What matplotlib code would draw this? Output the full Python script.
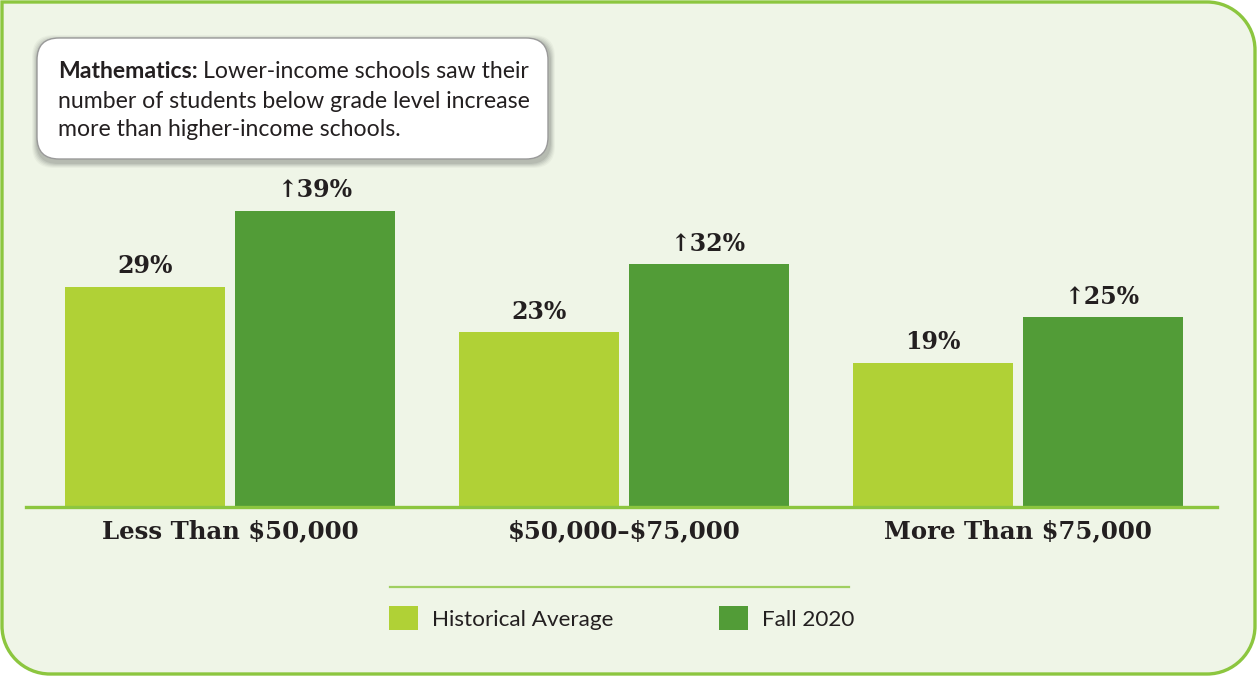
import matplotlib
matplotlib.use("Agg")
import matplotlib.pyplot as plt
import numpy as np
from matplotlib.path import Path
from matplotlib.patches import PathPatch, FancyBboxPatch

# ---- data ----
categories = ["Less Than \\$50,000", "\\$50,000\u2013\\$75,000", "More Than \\$75,000"]
series_names = ["Historical Average", "Fall 2020"]
historical = [29, 23, 19]
fall2020 = [39, 32, 25]

W, H = 1257, 676
DPI = 100
LIGHT = "#b0d136"
DARK = "#529c37"
BORDER = "#8cc63f"
BG = "#eff5e7"
TXT = "#231f20"

fig = plt.figure(figsize=(W / DPI, H / DPI), dpi=DPI)
fig.patch.set_facecolor("white")

# background overlay axes in pixel coordinates
bg = fig.add_axes([0, 0, 1, 1], zorder=0)
bg.set_xlim(0, W)
bg.set_ylim(H, 0)
bg.axis("off")

# panel with top-left square corner, others rounded
r = 48
x0, y0, x1, y1 = 2, 2, W - 2, H - 2
k = 0.5523
verts = [
    (x0, y0),
    (x1 - r, y0),
    (x1 - r + r * k, y0), (x1, y0 + r - r * k), (x1, y0 + r),
    (x1, y1 - r),
    (x1, y1 - r + r * k), (x1 - r + r * k, y1), (x1 - r, y1),
    (x0 + r, y1),
    (x0 + r - r * k, y1), (x0, y1 - r + r * k), (x0, y1 - r),
    (x0, y0),
]
codes = [Path.MOVETO, Path.LINETO,
         Path.CURVE4, Path.CURVE4, Path.CURVE4,
         Path.LINETO,
         Path.CURVE4, Path.CURVE4, Path.CURVE4,
         Path.LINETO,
         Path.CURVE4, Path.CURVE4, Path.CURVE4,
         Path.CLOSEPOLY]
bg.add_patch(PathPatch(Path(verts, codes), facecolor=BG, edgecolor=BORDER, lw=2.4))

# annotation box with soft shadow
for i, a in enumerate([0.03, 0.04, 0.05, 0.06, 0.07]):
    pad = 6 - i
    bg.add_patch(FancyBboxPatch((37 + 1, 38 + 3), 511, 121,
                                boxstyle=f"round,pad={pad},rounding_size=22",
                                facecolor="black", edgecolor="none", alpha=a))
bg.add_patch(FancyBboxPatch((37, 38), 511, 121, boxstyle="round,pad=0,rounding_size=22",
                            facecolor="white", edgecolor="#9a9a9a", lw=1.0))
sans = "Lato"
fs_box = 16.6
t_bold = bg.text(58, 72, "Mathematics:", fontsize=fs_box, fontweight="bold", family=sans,
                 color=TXT, va="center", ha="left")
fig.canvas.draw()
bb = t_bold.get_window_extent()
inv = bg.transData.inverted()
xr = inv.transform((bb.x1, bb.y0))[0]
bg.text(xr + 5, 72, "Lower-income schools saw their", fontsize=fs_box, family=sans,
        color=TXT, va="center", ha="left")
bg.text(58, 101, "number of students below grade level increase", fontsize=fs_box,
        family=sans, color=TXT, va="center", ha="left")
bg.text(58, 129, "more than higher-income schools.", fontsize=fs_box, family=sans,
        color=TXT, va="center", ha="left")

# legend separator line
bg.plot([390, 849], [587, 587], color=BORDER, lw=1.6, alpha=0.8)

# ---- main bar axes ----
px_per_unit = 393.75
left_px, right_px = 26, 1217
center0 = 230
scale = 7.6  # pixels per percentage point
base_px = 507

ax = fig.add_axes([left_px / W, (H - base_px) / H, (right_px - left_px) / W, base_px / H],
                  zorder=1)
ax.patch.set_alpha(0)
ax.set_xlim((left_px - center0) / px_per_unit, (right_px - center0) / px_per_unit)
ax.set_ylim(0, base_px / scale)

x = np.arange(len(categories))
bw = 160 / px_per_unit
off = 85 / px_per_unit
b1 = ax.bar(x - off, historical, bw, color=LIGHT, label=series_names[0])
b2 = ax.bar(x + off, fall2020, bw, color=DARK, label=series_names[1])

serif = ["DejaVu Serif"]
for xi, v in zip(x, historical):
    ax.annotate(f"{v}%", (xi - off, v), xytext=(0, 14.5), textcoords="offset points",
                ha="center", va="center", fontsize=17, fontweight="bold",
                family=serif, color=TXT)
for xi, v in zip(x, fall2020):
    ax.annotate(f"\u2191{v}%", (xi + off, v), xytext=(0, 14.5), textcoords="offset points",
                ha="center", va="center", fontsize=17, fontweight="bold",
                family=serif, color=TXT)

for s in ["top", "left", "right"]:
    ax.spines[s].set_visible(False)
ax.spines["bottom"].set_color(BORDER)
ax.spines["bottom"].set_linewidth(2.4)
ax.set_yticks([])
ax.set_xticks(x)
ax.set_xticklabels(categories, fontsize=17.6, fontweight="bold", family=serif, color=TXT)
ax.tick_params(axis="x", length=0, pad=9)

leg = ax.legend(handles=[b1, b2], labels=series_names, ncol=2,
                loc="center left", bbox_to_anchor=(389 / W, 1 - 618 / H),
                bbox_transform=fig.transFigure, frameon=False,
                prop={"family": sans, "size": 16.2},
                handlelength=1.3, handleheight=1.3, handletextpad=0.6,
                columnspacing=4.7, borderpad=0, borderaxespad=0)
for t in leg.get_texts():
    t.set_color(TXT)

fig.savefig("out.png", dpi=DPI, facecolor="white")
